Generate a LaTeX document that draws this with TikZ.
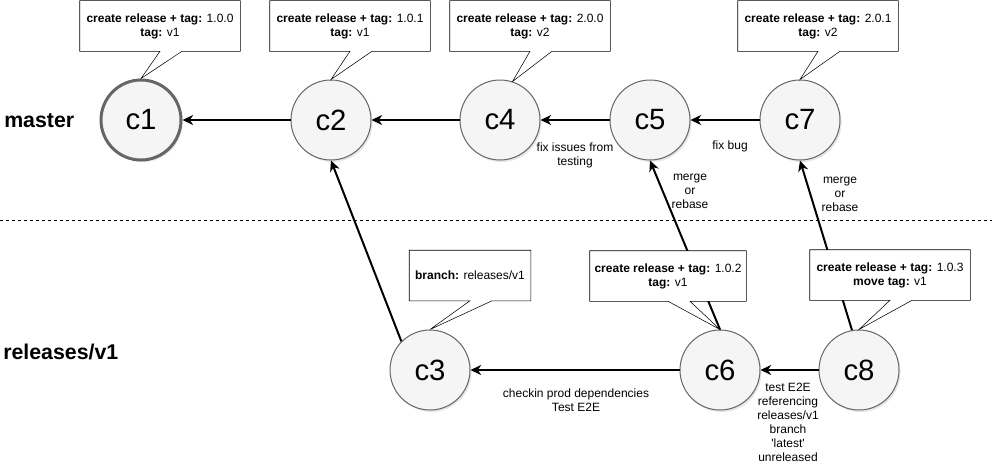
\documentclass[tikz,border=0pt]{standalone}
\usepackage{fontspec}
\setmainfont{Liberation Sans}
\usetikzlibrary{arrows.meta,calc,shadows}
\definecolor{nodefill}{HTML}{F5F5F5}
\definecolor{nodeline}{HTML}{666666}
% outline of a tag box with its pointer to a commit
\newcommand{\callout}[2]{%
  \draw (#1.south west) -- (#1.north west) -- (#1.north east) -- (#1.south east)
    -- ($(#1.south)+(22,0)$) -- (#2) -- (#1.south) -- cycle;}

\begin{document}
\begin{tikzpicture}
    [x=0.75pt,y=-0.75pt,
     commit/.style={circle,draw=nodeline,fill=nodefill,line width=0.75pt,minimum size=60pt,inner sep=0pt,
       font=\fontsize{22}{26}\selectfont,drop shadow={opacity=0.2,shadow xshift=1.2pt,shadow yshift=-1.5pt}},
     tagbox/.style={rectangle,fill=white,minimum height=37.5pt,minimum width=120pt,inner sep=0pt,
       align=center,font=\fontsize{9}{10.5}\selectfont},
     lbl/.style={align=center,inner sep=0pt,font=\fontsize{9}{10.5}\selectfont},
     lane/.style={anchor=west,inner sep=0pt,font=\fontsize{16}{19}\selectfont\bfseries},
     link/.style={-{Stealth[length=8pt,width=7.5pt,inset=2.5pt]},line width=1.5pt}]
    \useasboundingbox (0,0) rectangle (992,464);

    \node[lane] (master) at (4,121) {master};
    \node[lane] (release) at (3,352) {releases/v1};
    \coordinate (sepL) at (0,220);
    \coordinate (sepR) at (992,220);
    \draw[line width=0.75pt,dash pattern=on 2.25pt off 2.25pt] (sepL) -- (sepR);

    \node[commit,line width=2.25pt] (c1) at (141,120) {c1};
    \node[commit] (c2) at (331,120) {c2};
    \node[commit] (c4) at (500,120) {c4};
    \node[commit] (c5) at (650,120) {c5};
    \node[commit] (c7) at (800,120) {c7};
    \node[commit] (c3) at (430,370) {c3};
    \node[commit] (c6) at (720,370) {c6};
    \node[commit] (c8) at (859,370) {c8};

    \draw[link] (c2) -- (c1);
    \draw[link] (c4) -- (c2);
    \draw[link] (c5) -- (c4);
    \draw[link] (c7) -- (c5);
    \draw[link] (c3.135) -- (c2.south);
    \draw[link] (c6.north) -- (c5.south);
    \draw[link] (c8.100) -- (c7.south);
    \draw[link] (c6) -- (c3);
    \draw[link] (c8) -- (c6);

    \node[tagbox] (t1) at (160,26) {\textbf{create release + tag:} 1.0.0\\\textbf{tag:} v1};
    \node[tagbox] (t2) at (350,26) {\textbf{create release + tag:} 1.0.1\\\textbf{tag:} v1};
    \node[tagbox] (t4) at (530,26) {\textbf{create release + tag:} 2.0.0\\\textbf{tag:} v2};
    \node[tagbox] (t7) at (818,26) {\textbf{create release + tag:} 2.0.1\\\textbf{tag:} v2};
    \node[tagbox,minimum width=90.75pt] (t3) at (470,275.5) {\textbf{branch:} releases/v1};
    \node[tagbox,minimum width=117pt] (t6) at (668,276) {\textbf{create release + tag:} 1.0.2\\\textbf{tag:} v1};
    \node[tagbox] (t8) at (890,275) {\textbf{create release + tag:} 1.0.3\\\textbf{move tag:} v1};
    \callout{t1}{c1.north}
    \callout{t2}{c2.north}
    \callout{t4}{c4.72}
    \callout{t7}{c7.north}
    \callout{t3}{c3.north}
    \callout{t6}{c6.north}
    \callout{t8}{c8.north}

    \node[lbl] (l54) at (575,155) {fix issues from\\testing};
    \node[lbl] (l75) at (730,146) {fix bug};
    \node[lbl] (l65) at (690,191) {merge\\or\\rebase};
    \node[lbl] (l87) at (840,194) {merge\\or\\rebase};
    \node[lbl] (l63) at (576,400) {checkin prod dependencies\\Test E2E};
    \node[lbl] (l86) at (788,422) {test E2E\\referencing\\releases/v1\\branch\\\textquotesingle latest\textquotesingle\\unreleased};
\end{tikzpicture}
\end{document}
